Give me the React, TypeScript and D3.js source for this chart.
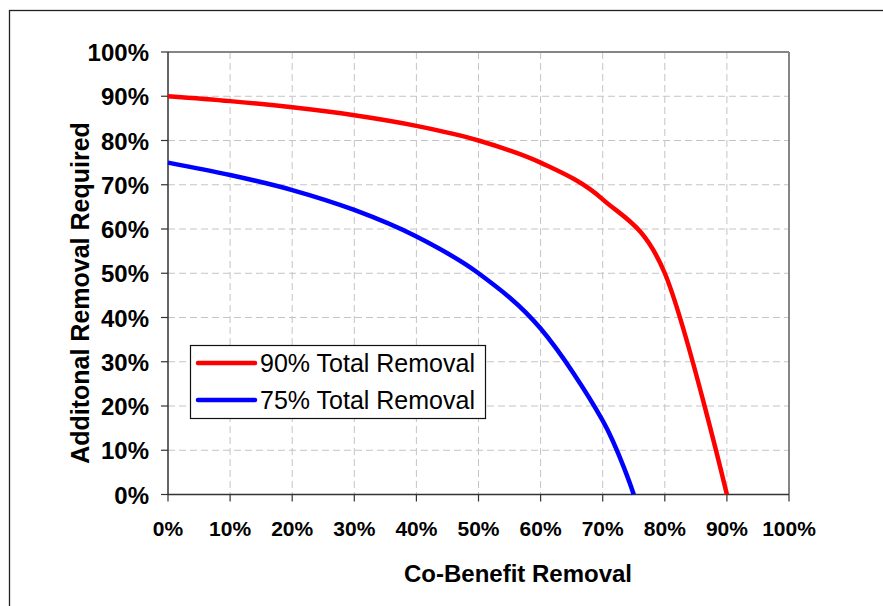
import React from "react";
import * as d3 from "d3";

const xTicks = [0, 0.1, 0.2, 0.3, 0.4, 0.5, 0.6, 0.7, 0.8, 0.9, 1.0];
const yTicks = [0, 0.1, 0.2, 0.3, 0.4, 0.5, 0.6, 0.7, 0.8, 0.9, 1.0];

const coBenefit90 = [0, 0.1, 0.2, 0.3, 0.4, 0.5, 0.6, 0.7, 0.8, 0.9];
const required90 = [0.9, 0.889, 0.875, 0.857, 0.833, 0.8, 0.75, 0.667, 0.5, 0];

const coBenefit75 = [0, 0.1, 0.2, 0.3, 0.4, 0.5, 0.6, 0.7, 0.75];
const required75 = [0.75, 0.722, 0.688, 0.643, 0.583, 0.5, 0.375, 0.167, 0];

const seriesNames = ["90% Total Removal", "75% Total Removal"];
const seriesColors = ["#ff0000", "#0000ff"];

const W = 883;
const H = 606;
const left = 168;
const right = 789;
const top = 52;
const bottom = 494.5;
const FONT = "'Liberation Sans', Arial, sans-serif";

export default function App() {
  const x = d3.scaleLinear().domain([0, 1]).range([left, right]);
  const y = d3.scaleLinear().domain([0, 1]).range([bottom, top]);
  const line = d3
    .line<[number, number]>()
    .x((d) => x(d[0]))
    .y((d) => y(d[1]))
    .curve(d3.curveCatmullRom.alpha(0));
  const s90 = coBenefit90.map((c, i) => [c, required90[i]] as [number, number]);
  const s75 = coBenefit75.map((c, i) => [c, required75[i]] as [number, number]);
  const fmt = d3.format(".0%");

  return (
    <svg
      width={W}
      height={H}
      style={{ position: "absolute", left: 0, top: 0, background: "#fff" }}
    >
      <rect x={0} y={0} width={W} height={H} fill="#fff" />
      {/* outer frame */}
      <rect x={9.5} y={10.5} width={W + 20} height={H + 20} fill="none" stroke="#222" strokeWidth={1.3} />

      {/* gridlines */}
      {yTicks.slice(1, -1).map((t) => (
        <line key={"gy" + t} x1={left} x2={right} y1={y(t)} y2={y(t)} stroke="#c4c4c4" strokeWidth={1} strokeDasharray="7,4" />
      ))}
      {xTicks.slice(1, -1).map((t) => (
        <line key={"gx" + t} x1={x(t)} x2={x(t)} y1={top} y2={bottom} stroke="#c4c4c4" strokeWidth={1} strokeDasharray="7,4" />
      ))}

      {/* plot border top/right */}
      <line x1={left} x2={right} y1={top} y2={top} stroke="#858585" strokeWidth={2} />
      <line x1={right} x2={right} y1={top} y2={bottom} stroke="#858585" strokeWidth={2} />

      {/* axes */}
      <line x1={left} x2={left} y1={top} y2={bottom} stroke="#333" strokeWidth={1.5} />
      <line x1={left} x2={right} y1={bottom} y2={bottom} stroke="#333" strokeWidth={1.5} />
      {yTicks.map((t) => (
        <g key={"ty" + t}>
          <line x1={left - 7} x2={left} y1={y(t)} y2={y(t)} stroke="#333" strokeWidth={1.2} />
          <text x={149} y={y(t) + 9} textAnchor="end" fontFamily={FONT} fontWeight="bold" fontSize={24} fill="#000">
            {fmt(t)}
          </text>
        </g>
      ))}
      {xTicks.map((t) => (
        <g key={"tx" + t}>
          <line x1={x(t)} x2={x(t)} y1={bottom} y2={bottom + 7} stroke="#333" strokeWidth={1.2} />
          <text x={x(t)} y={536} textAnchor="middle" fontFamily={FONT} fontWeight="bold" fontSize={21} fill="#000">
            {fmt(t)}
          </text>
        </g>
      ))}

      {/* series */}
      <path d={line(s90) || ""} fill="none" stroke={seriesColors[0]} strokeWidth={4.5} />
      <path d={line(s75) || ""} fill="none" stroke={seriesColors[1]} strokeWidth={4.5} />

      {/* legend */}
      <rect x={190.5} y={345.5} width={295} height={73} fill="#fff" stroke="#111" strokeWidth={1.2} />
      {seriesNames.map((n, i) => (
        <g key={n}>
          <line x1={198} x2={255} y1={363 + i * 37} y2={363 + i * 37} stroke={seriesColors[i]} strokeWidth={4.5} strokeLinecap="round" />
          <text x={260} y={372 + i * 37} fontFamily={FONT} fontSize={25} fill="#000">
            {n}
          </text>
        </g>
      ))}

      {/* axis titles */}
      <text x={518} y={582} textAnchor="middle" fontFamily={FONT} fontWeight="bold" fontSize={24} fill="#000">
        Co-Benefit Removal
      </text>
      <text
        transform={`translate(89,293) rotate(-90)`}
        textAnchor="middle"
        fontFamily={FONT}
        fontWeight="bold"
        fontSize={25}
        fill="#000"
      >
        Additonal Removal Required
      </text>
    </svg>
  );
}
